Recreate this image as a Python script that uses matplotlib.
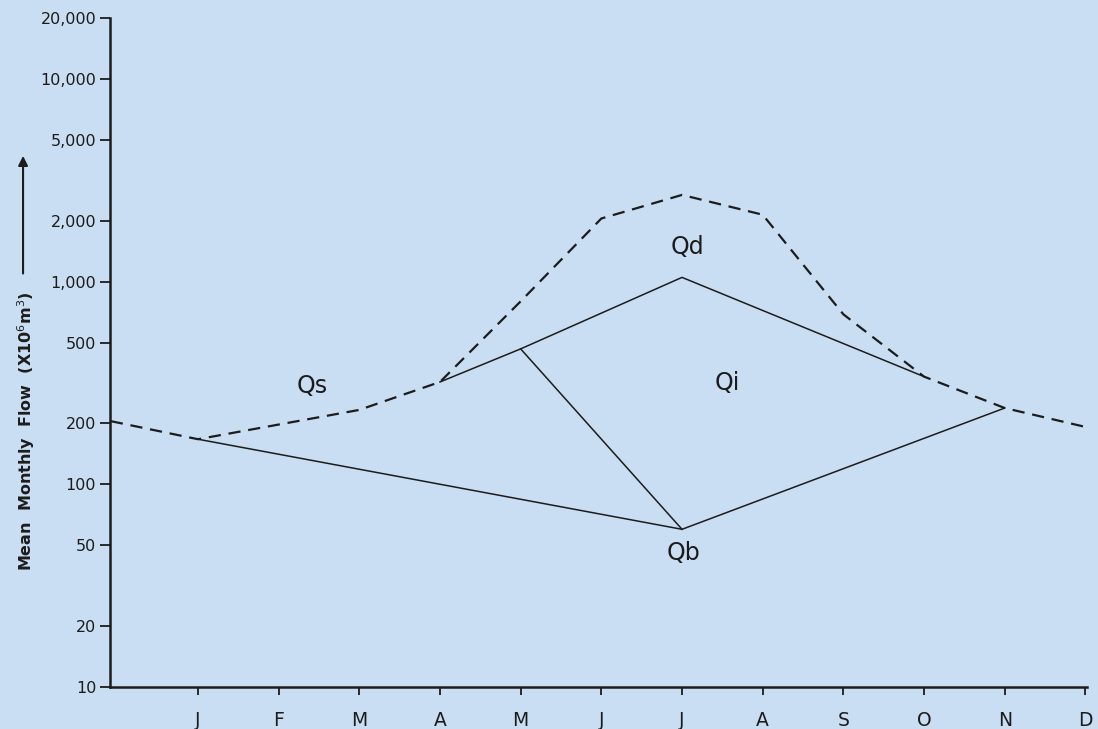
import numpy as np
import matplotlib.pyplot as plt
from matplotlib.patches import FancyArrowPatch


# --------------------------------
# Data
# --------------------------------
months = ["J", "F", "M", "A", "M", "J", "J", "A", "S", "O", "N", "D"]

# dashed envelope (total flow), x = month index (0 = Jan)
total_x = [-1.08, 0, 2, 3, 4, 5, 6, 7, 8, 9, 10, 11]
total_q = [205, 167, 233, 320, 800, 2050, 2680, 2140, 690, 340, 238, 192]

# base flow Qb
base_x = [0, 6, 10]
base_q = [167, 60, 238]

# upper solid line (Qd / Qi boundary)
upper_x = [3, 4, 6, 9]
upper_q = [320, 466, 1050, 340]

# Qs / Qi separation
split_x = [4, 6]
split_q = [466, 60]

ytick_vals = [10, 20, 50, 100, 200, 500, 1000, 2000, 5000, 10000, 20000]
ytick_labels = ["10", "20", "50", "100", "200", "500", "1,000", "2,000",
                "5,000", "10,000", "20,000"]

# labels: (text, month index, flow)
region_labels = [("Qs", 1.41, 306), ("Qd", 6.07, 1480),
                 ("Qi", 6.56, 316), ("Qb", 6.02, 46)]


# --------------------------------
# Figure
# --------------------------------
bg = "#c9def2"
ink = "#1c1c1c"

fig = plt.figure(figsize=(10.98, 7.29), dpi=100, facecolor=bg)
ax = fig.add_axes([0.1002, 0.0576, 0.8898, 0.9177])
ax.set_facecolor(bg)

ax.plot(total_x, total_q, color=ink, lw=1.6, linestyle=(0, (5.5, 3.5)))
ax.plot(base_x, base_q, color=ink, lw=1.1)
ax.plot(upper_x, upper_q, color=ink, lw=1.1)
ax.plot(split_x, split_q, color=ink, lw=1.1)

for txt, x, y in region_labels:
    ax.text(x, y, txt, fontsize=17, color=ink, ha="center", va="center")

ax.set_yscale("log")
ax.set_ylim(10, 20000)
ax.set_xlim(-1.09, 11.02)

ax.set_yticks(ytick_vals)
ax.set_yticklabels(ytick_labels)
ax.minorticks_off()
ax.set_xticks(np.arange(len(months)))
ax.set_xticklabels(months)

ax.tick_params(axis="y", direction="out", length=7, width=1.3,
               pad=3, labelsize=11.5, colors=ink)
ax.tick_params(axis="x", direction="out", length=6, width=1.3,
               pad=11, labelsize=13.5, colors=ink)

for side in ["top", "right"]:
    ax.spines[side].set_visible(False)
for side in ["left", "bottom"]:
    ax.spines[side].set_linewidth(1.8)
    ax.spines[side].set_color(ink)


# y label with arrow
fig.text(0.024, 0.409, "Mean  Monthly  Flow  (X10$^6$m$^3$)",
         rotation=90, ha="center", va="center", fontsize=11.5,
         fontweight="bold", color=ink)

arrow = FancyArrowPatch((0.021, 0.621), (0.021, 0.79),
                        transform=fig.transFigure,
                        arrowstyle="-|>", mutation_scale=14,
                        color=ink, lw=1.5)
fig.add_artist(arrow)

fig.savefig("out.png", dpi=100, facecolor=bg)
